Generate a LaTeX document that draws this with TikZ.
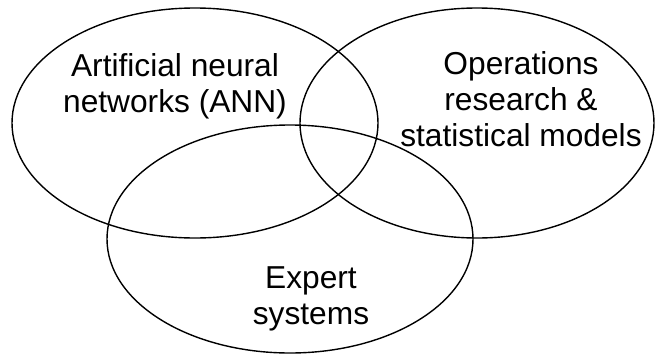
\documentclass[tikz,border=0pt]{standalone}
\usepackage{fontspec}
\setmainfont{Liberation Sans}
\usetikzlibrary{shapes.geometric}

\begin{document}
\begin{tikzpicture}[x=1pt, y=-1pt,
  every node/.style = {align=center,
    font=\fontsize{31.7}{36}\selectfont},
  field/.style = {shape=ellipse, draw, line width=1.4pt,
    inner sep=0pt}]
  \useasboundingbox (0,0) rectangle (656,354);
  \node[field, minimum width=366pt, minimum height=230pt] (ann) at (195,123) {};
  \node[field, minimum width=354pt, minimum height=230pt] (opres) at (477,123) {};
  \node[field, minimum width=366pt, minimum height=228pt] (expert) at (290,239) {};
  \node (annlabel) at (175,86.5) {Artificial neural\\networks (ANN)};
  \node (opreslabel) at (521,99.3) {Operations\\research \&\\statistical models};
  \node (expertlabel) at (311,298.5) {Expert\\systems};
\end{tikzpicture}
\end{document}
